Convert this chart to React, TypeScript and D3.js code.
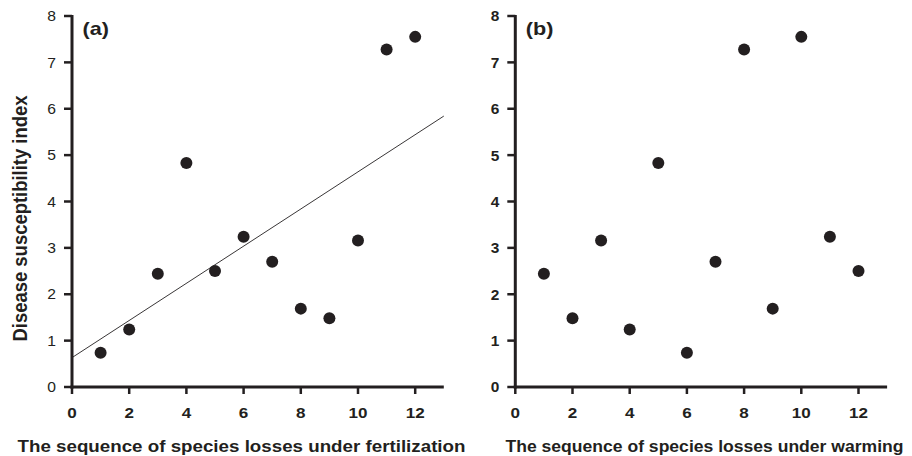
import React from 'react';
import * as d3 from 'd3';

// sequence position (1..12) and disease susceptibility index
const sequence = [1, 2, 3, 4, 5, 6, 7, 8, 9, 10, 11, 12];
const fertilizationIndex = [0.74, 1.24, 2.44, 4.83, 2.5, 3.24, 2.7, 1.69, 1.48, 3.16, 7.28, 7.55];
const warmingIndex = [2.44, 1.48, 3.16, 1.24, 4.83, 0.74, 2.7, 7.28, 1.69, 7.55, 3.24, 2.5];

const xTicks = [0, 2, 4, 6, 8, 10, 12];
const yTicks = [0, 1, 2, 3, 4, 5, 6, 7, 8];

const ink = '#231f20';
const font = '"Liberation Sans", Arial, sans-serif';

const W = 912;
const H = 456;
// the original figure is slightly stretched sideways, text included
const sx = 1.1;

type PanelProps = {
  left: number;
  values: number[];
  tag: string;
  title: string;
  titleX: number;
  titleLen: number;
  boldY: boolean;
  fit: boolean;
};

const Panel = ({ left, values, tag, title, titleX, titleLen, boldY, fit }: PanelProps) => {
  const x = d3.scaleLinear().domain([0, 13]).range([left, left + 371.8]);
  const y = d3.scaleLinear().domain([0, 8]).range([387, 16]);

  const pts = sequence.map((s, i) => ({ s, v: values[i] }));

  // least squares line through the points
  let fitPath = null;
  if (fit) {
    const mx = d3.mean(sequence) as number;
    const my = d3.mean(values) as number;
    const sxy = d3.sum(pts, d => (d.s - mx) * (d.v - my));
    const sxx = d3.sum(pts, d => (d.s - mx) * (d.s - mx));
    const b = sxy / sxx;
    const a = my - b * mx;
    const line = d3.line<number>().x(d => x(d)).y(d => y(a + b * d));
    fitPath = <path d={line([0, 13]) || ''} fill="none" stroke={ink} strokeWidth={0.9} />;
  }

  return (
    <g>
      {fitPath}
      {/* y axis */}
      <line x1={x(0)} x2={x(0)} y1={y(8) - 1} y2={y(0) + 1.5} stroke={ink} strokeWidth={3} />
      {yTicks.map(t => (
        <g key={'y' + t}>
          <line x1={x(0) - 8} x2={x(0)} y1={y(t)} y2={y(t)} stroke={ink} strokeWidth={2.5} />
          <text
            transform={`translate(${x(0) - 16},${y(t)}) scale(${boldY ? 1.03 : 1.08},1)`}
            dy="0.36em"
            textAnchor="end"
            fontSize={boldY ? 15 : 14.5}
            fontWeight={boldY ? 'bold' : 'normal'}
            fill={ink}
          >
            {t}
          </text>
        </g>
      ))}
      {/* x axis */}
      <line x1={x(0) - 1.5} x2={x(13)} y1={y(0)} y2={y(0)} stroke={ink} strokeWidth={3} />
      {xTicks.map(t => (
        <g key={'x' + t}>
          <line x1={x(t)} x2={x(t)} y1={y(0)} y2={y(0) + 7} stroke={ink} strokeWidth={2.5} />
          <text
            transform={`translate(${x(t)},417.7) scale(${sx},1)`}
            textAnchor="middle"
            fontSize={15.5}
            fontWeight="bold"
            fill={ink}
          >
            {t}
          </text>
        </g>
      ))}
      {pts.map(d => (
        <circle key={d.s} cx={x(d.s)} cy={y(d.v)} r={6} fill={ink} />
      ))}
      <text
        transform={`translate(${x(0) + 10.5},35) scale(1.2,1)`}
        fontSize={18}
        fontWeight="bold"
        fill={ink}
      >
        {tag}
      </text>
      <text
        x={titleX}
        y={452}
        textAnchor="middle"
        fontSize={16.5}
        fontWeight="bold"
        fill={ink}
        textLength={titleLen}
        lengthAdjust="spacingAndGlyphs"
      >
        {title}
      </text>
    </g>
  );
};

export default function App() {
  return (
    <svg
      width={W}
      height={H}
      style={{ position: 'absolute', left: 0, top: 0, background: '#fff' }}
      fontFamily={font}
    >
      <rect width={W} height={H} fill="#fff" />
      <Panel
        left={72}
        values={fertilizationIndex}
        tag="(a)"
        title="The sequence of species losses under fertilization"
        titleX={241.5}
        titleLen={448}
        boldY={false}
        fit={true}
      />
      <Panel
        left={515.3}
        values={warmingIndex}
        tag="(b)"
        title="The sequence of species losses under warming"
        titleX={704.5}
        titleLen={398}
        boldY={true}
        fit={false}
      />
      <text
        transform={`translate(27,218.5) rotate(-90) scale(1,${sx})`}
        textAnchor="middle"
        fontSize={18.3}
        fontWeight="bold"
        fill={ink}
        textLength={246}
        lengthAdjust="spacingAndGlyphs"
      >
        Disease susceptibility index
      </text>
    </svg>
  );
}
